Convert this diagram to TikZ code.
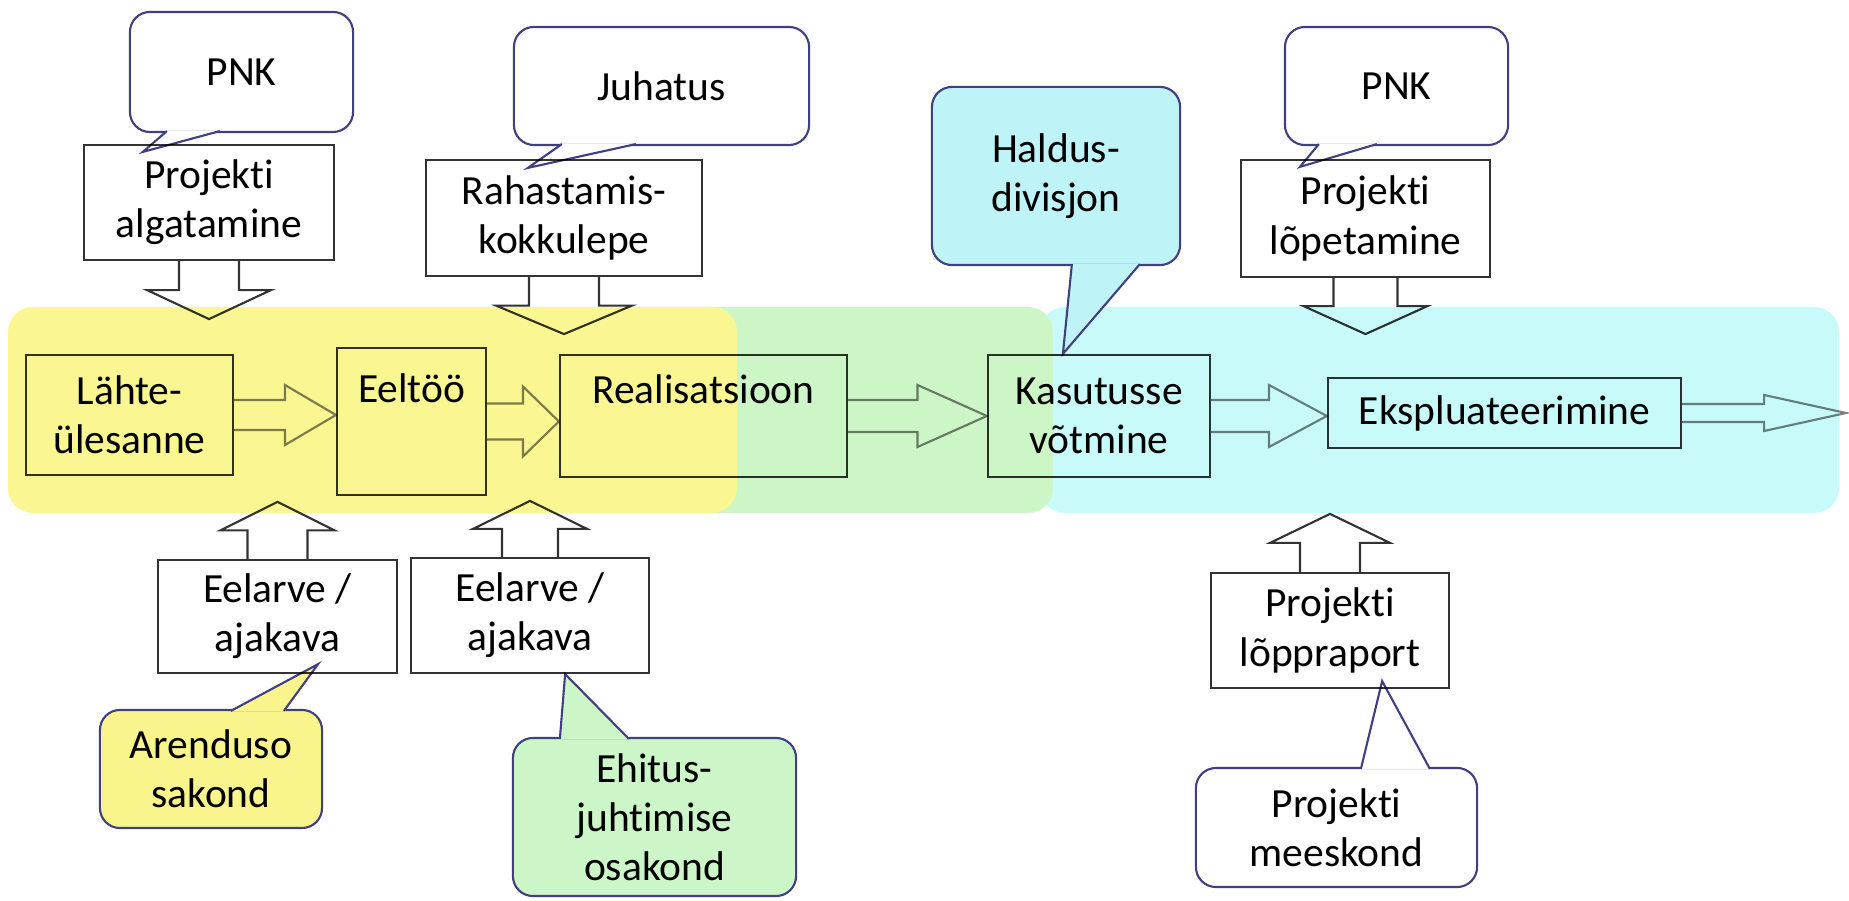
\documentclass[tikz,border=0pt]{standalone}
\usepackage{fontspec}
\setmainfont{Carlito}[Ligatures=NoCommon]
\usetikzlibrary{calc}
\definecolor{regyellow}{RGB}{250,246,145}
\definecolor{reggreen}{RGB}{205,246,198}
\definecolor{regcyan}{RGB}{200,250,250}
\definecolor{callyellow}{RGB}{250,244,140}
\definecolor{callgreen}{RGB}{204,246,200}
\definecolor{callcyan}{RGB}{190,244,248}
\definecolor{callline}{RGB}{64,64,128}
\pgfdeclarelayer{bg}
\pgfdeclarelayer{mid}
\pgfsetlayers{bg,mid,main}

\begin{document}
\begin{tikzpicture}[
        x=0.01cm, y=-0.01cm,
        font={\fontsize{11.8}{14}\selectfont},
        box/.style={draw=black, draw opacity=0.8, line width=0.6pt, align=center, inner sep=0pt},
        bubble/.style={draw=callline, line width=0.6pt, rounded corners=0.2cm, align=center, inner sep=0pt},
        tail/.style={draw=callline, line width=0.6pt},
        blockh/.style 2 args={draw=black, draw opacity=0.5, line width=0.6pt, to path={
            ($(\tikztostart)+(0,-#1)$) -- ($(\tikztostart)!.5!(\tikztotarget)+(0,-#1)$)
            -- ($(\tikztostart)!.5!(\tikztotarget)+(0,-#2)$) -- (\tikztotarget)
            -- ($(\tikztostart)!.5!(\tikztotarget)+(0,#2)$) -- ($(\tikztostart)!.5!(\tikztotarget)+(0,#1)$)
            -- ($(\tikztostart)+(0,#1)$)}},
        blockv/.style 2 args={draw=black, draw opacity=0.8, line width=0.6pt, to path={
            ($(\tikztostart)+(-#1,0)$) -- ($(\tikztostart)!.5!(\tikztotarget)+(-#1,0)$)
            -- ($(\tikztostart)!.5!(\tikztotarget)+(-#2,0)$) -- (\tikztotarget)
            -- ($(\tikztostart)!.5!(\tikztotarget)+(#2,0)$) -- ($(\tikztostart)!.5!(\tikztotarget)+(#1,0)$)
            -- ($(\tikztostart)+(#1,0)$)}},
    ]
    \useasboundingbox (0, 0) rectangle (1849, 901);

    \begin{pgfonlayer}{bg}
        \fill[regcyan, rounded corners=0.25cm] (1040, 307) rectangle (1839, 513);
        \fill[reggreen, rounded corners=0.25cm] (600, 307) rectangle (1053, 513);
        \fill[regyellow, rounded corners=0.25cm] (8, 307) rectangle (737, 513);
    \end{pgfonlayer}

    \node[box, minimum width=2.50cm, minimum height=1.15cm] (alg) at (209, 202.5) {Projekti\\algatamine};
    \node[box, minimum width=2.76cm, minimum height=1.16cm] (rah) at (564, 218) {Rahastamis-\\kokkulepe};
    \node[box, minimum width=2.49cm, minimum height=1.17cm] (lop) at (1365.5, 218.5) {Projekti\\lõpetamine};

    \node[box, minimum width=2.07cm, minimum height=1.20cm] (lah) at (129.5, 415) {Lähte-\\ülesanne};
    \node[box, minimum width=1.49cm, minimum height=1.47cm] (eel) at (411.5, 421.5) {Eeltöö\\[5pt]\mbox{}};
    \node[box, minimum width=2.87cm, minimum height=1.22cm] (rea) at (703.5, 416) {Realisatsioon\\[1.5pt]\mbox{}};
    \node[box, minimum width=2.22cm, minimum height=1.22cm] (kas) at (1099, 416) {Kasutusse\\võtmine};
    \node[box, minimum width=3.53cm, minimum height=0.70cm] (eks) at (1504.5, 413) {Ekspluateerimine};
    \coordinate (out) at (1846, 413);

    \node[box, minimum width=2.39cm, minimum height=1.13cm] (ee1) at (277.5, 616.5) {Eelarve /\\ajakava};
    \node[box, minimum width=2.38cm, minimum height=1.15cm] (ee2) at (530, 615.5) {Eelarve /\\ajakava};
    \node[box, minimum width=2.38cm, minimum height=1.15cm] (lpr) at (1330, 630.5) {Projekti\\lõppraport};

    \draw[blockh={15}{30}] (lah.east) to (eel.west |- lah.east);
    \draw[blockh={18}{35}] (eel.east) to (rea.west |- eel.east);
    \draw[blockh={16}{31}] (rea.east) to (kas.west);
    \draw[blockh={16}{31}] (kas.east) to (eks.west |- kas.east);
    \draw[blockh={9}{18}] (eks.east) to (out);

    \coordinate (d1) at ($(alg.south) + (0, 58)$);
    \coordinate (d2) at ($(rah.south) + (0, 57)$);
    \coordinate (d3) at ($(lop.south) + (0, 56)$);
    \coordinate (u1) at ($(ee1.north) + (0, -57)$);
    \coordinate (u2) at ($(ee2.north) + (0, -56)$);
    \coordinate (u3) at ($(lpr.north) + (0, -58)$);
    \draw[blockv={30}{62}] (alg.south) to (d1);
    \draw[blockv={35}{68}] (rah.south) to (d2);
    \draw[blockv={32}{62}] (lop.south) to (d3);
    \draw[blockv={30}{57}] (ee1.north) to (u1);
    \draw[blockv={28}{57}] (ee2.north) to (u2);
    \draw[blockv={30}{60}] (lpr.north) to (u3);

    \begin{pgfonlayer}{mid}
        \node[bubble, fill=white, minimum width=2.23cm, minimum height=1.20cm] (pnka) at (241.5, 72) {PNK};
        \node[bubble, fill=white, minimum width=2.95cm, minimum height=1.18cm] (juh) at (661.5, 86) {Juhatus};
        \node[bubble, fill=callcyan, minimum width=2.48cm, minimum height=1.78cm] (hal) at (1056, 176) {Haldus-\\divisjon};
        \node[bubble, fill=white, minimum width=2.23cm, minimum height=1.18cm] (pnkb) at (1396.5, 86) {PNK};
        \node[bubble, fill=callyellow, minimum width=2.22cm, minimum height=1.18cm] (are) at (211, 769) {Arenduso\\sakond};
        \node[bubble, fill=callgreen, minimum width=2.83cm, minimum height=1.58cm] (ehi) at (654.5, 817) {Ehitus-\\juhtimise\\osakond};
        \node[bubble, fill=white, minimum width=2.81cm, minimum height=1.19cm] (mee) at (1336.5, 827.5) {Projekti\\meeskond};

        \draw[tail, fill=white] ($(pnka.south west) + (38, -2)$) -- ($(alg.north west) + (60, 8)$) -- ($(pnka.south west) + (91, -2)$);
        \draw[tail, fill=white] ($(juh.south west) + (49, -2)$) -- ($(rah.north west) + (103, 9)$) -- ($(juh.south west) + (123, -2)$);
        \draw[tail, fill=callcyan] ($(hal.south west) + (141, -2)$) -- ($(kas.north west) + (76, 0)$) -- ($(hal.south west) + (209, -2)$);
        \draw[tail, fill=white] ($(pnkb.south west) + (35, -2)$) -- ($(lop.north west) + (60, 8)$) -- ($(pnkb.south west) + (93, -2)$);
        \draw[tail, fill=callyellow] ($(are.north west) + (132, 2)$) -- ($(ee1.south east) + (-80, -10)$) -- ($(are.north west) + (185, 2)$);
        \draw[tail, fill=callgreen] ($(ehi.north west) + (48, 2)$) -- ($(ee2.south east) + (-85, 0)$) -- ($(ehi.north west) + (117, 2)$);
        \draw[tail, fill=white] ($(mee.north west) + (166, 2)$) -- ($(lpr.south east) + (-68, -8)$) -- ($(mee.north west) + (235, 2)$);
    \end{pgfonlayer}
\end{tikzpicture}
\end{document}
